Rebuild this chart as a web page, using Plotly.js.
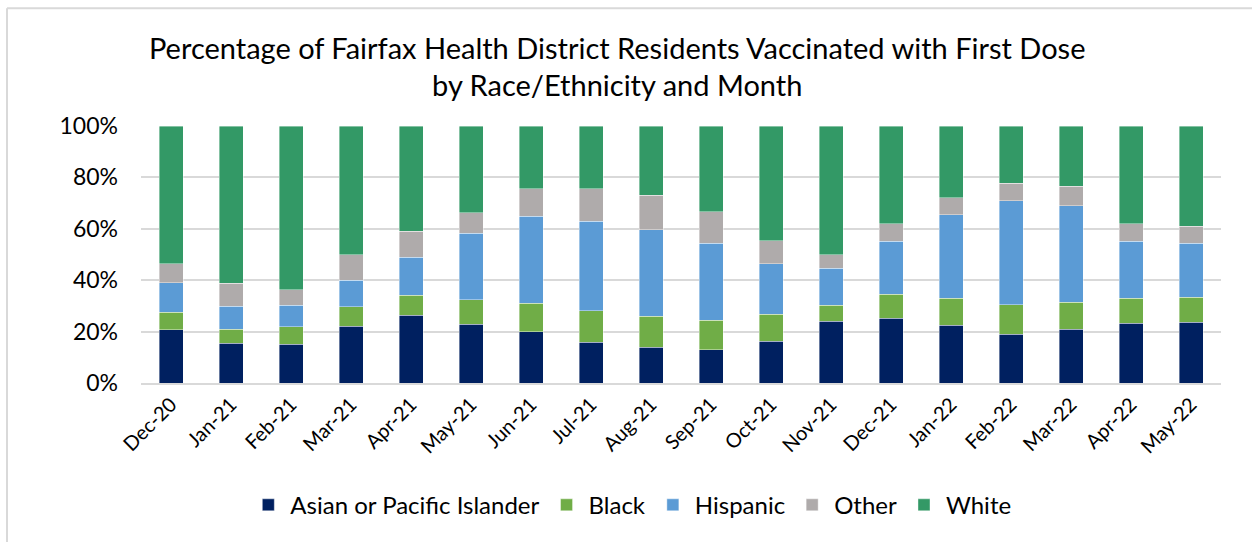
<!DOCTYPE html>
<html>
<head>
<meta charset="utf-8">
<script src="https://cdn.plot.ly/plotly-3.0.1.min.js"></script>
<style>html,body{margin:0;padding:0;background:#fff;}#chart{width:1252px;height:542px;}</style>
</head>
<body>
<div id="chart"></div>
<script>
const months = ["Dec-20","Jan-21","Feb-21","Mar-21","Apr-21","May-21","Jun-21","Jul-21","Aug-21","Sep-21","Oct-21","Nov-21","Dec-21","Jan-22","Feb-22","Mar-22","Apr-22","May-22"];
const asianPI = [20.7,15.4,15.0,22.0,26.4,22.9,19.9,15.8,13.9,13.0,16.2,24.0,25.1,22.4,18.9,20.9,23.3,23.6];
const black   = [6.8,5.6,6.8,7.7,7.8,9.4,11.2,12.4,12.0,11.4,10.5,6.3,9.5,10.5,11.5,10.6,9.6,9.8];
const hispanic= [11.6,8.8,8.5,10.2,14.8,26.0,33.8,34.8,33.8,29.9,19.8,14.3,20.5,32.6,40.6,37.5,22.2,20.9];
const other   = [7.3,9.1,6.0,10.1,10.1,8.0,10.6,12.5,13.4,12.3,8.8,5.3,6.8,6.5,6.7,7.6,6.8,6.6];
const white   = [53.6,61.1,63.7,50.0,40.9,33.7,24.5,24.5,26.9,33.4,44.7,50.1,38.1,28.0,22.3,23.4,38.1,39.1];

const seriesNames = ["Asian or Pacific Islander","Black","Hispanic","Other","White"];
const seriesData = [asianPI, black, hispanic, other, white];
const colors = ["#002060","#70AD47","#5B9BD5","#AFABAB","#339966"];

const traces = seriesNames.map((n,i)=>({
  type:"bar", name:n, x:months, y:seriesData[i].map(v=>v/100),
  marker:{color:colors[i], line:{color:"rgba(255,255,255,0.5)", width:0.8}},
  hovertemplate:"%{x}: %{y:.1%}<extra>"+n+"</extra>"
}));

const font = "Lato, 'Open Sans', sans-serif";
const layout = {
  width:1252, height:542,
  margin:{l:141, r:31, t:126, b:159},
  barmode:"stack", bargap:0.6,
  paper_bgcolor:"#fff", plot_bgcolor:"#fff",
  font:{family:font, color:"#000"},
  title:{text:"Percentage of Fairfax Health District Residents Vaccinated with First Dose<br>by Race/Ethnicity and Month",
    font:{family:font, size:29, color:"#000"}, x:0.493, xanchor:"center", y:0.892, yanchor:"middle"},
  xaxis:{type:"category", tickangle:-45, tickfont:{size:20, color:"#000"}, showgrid:false,
    showline:true, linecolor:"#d9d9d9", linewidth:2, ticks:"", fixedrange:true},
  yaxis:{range:[0,1], tickvals:[0,0.2,0.4,0.6,0.8,1], tickformat:".0%", tickfont:{size:23, color:"#000"},
    showgrid:true, gridcolor:"#d9d9d9", gridwidth:2, zeroline:false, ticks:"", ticklen:0, ticklabelstandoff:22, fixedrange:true},
  legend:{orientation:"h", x:0.454, xanchor:"center", y:-0.388, yanchor:"top", font:{size:24, color:"#000"},
    traceorder:"normal", itemwidth:34},
  shapes:[
    {type:"line", xref:"paper", yref:"paper", x0:(7-141)/1080, x1:(1252-141)/1080, y0:(383.3-8)/257.3, y1:(383.3-8)/257.3, line:{color:"#d9d9d9", width:2}},
    {type:"line", xref:"paper", yref:"paper", x0:(7-141)/1080, x1:(7-141)/1080, y0:(383.3-8)/257.3, y1:(383.3-545)/257.3, line:{color:"#d9d9d9", width:2}}
  ],
  showlegend:true
};
Plotly.newPlot("chart", traces, layout, {displayModeBar:false, staticPlot:true});
</script>
</body>
</html>
